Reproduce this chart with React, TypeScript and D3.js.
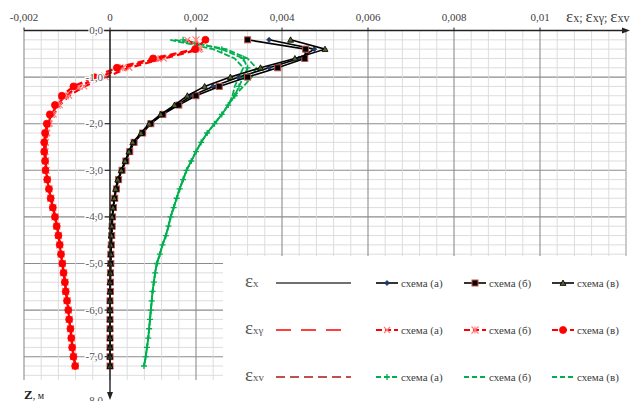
import React from 'react';
import * as d3 from 'd3';

const depths = [-0.2, -0.4, -0.6, -0.8, -1.0, -1.2, -1.4, -1.6, -1.8, -2.0, -2.2, -2.4, -2.6, -2.8, -3.0, -3.2, -3.4, -3.6, -3.8, -4.0, -4.2, -4.4, -4.6, -4.8, -5.0, -5.2, -5.4, -5.6, -5.8, -6.0, -6.2, -6.4, -6.6, -6.8, -7.0, -7.2];

const exA = [0.0037, 0.00475, 0.0044, 0.0037, 0.0030, 0.0024, 0.0019, 0.00155, 0.0012, 0.00093, 0.00074, 0.00055, 0.00045, 0.00036, 0.00027, 0.00019, 0.00014, 0.0001, 0.00008, 0.00006, 0.00005, 0.00004, 0.00003, 0.00002, 0.00001, 0.00001, 0.00001, 0, 0, 0, 0, 0, 0, 0, 0, 0];
const exB = [0.0032, 0.00455, 0.00453, 0.0039, 0.0032, 0.00254, 0.0020, 0.0016, 0.00123, 0.00095, 0.00076, 0.00056, 0.00046, 0.00037, 0.00028, 0.0002, 0.00015, 0.00011, 0.00008, 0.00006, 0.00005, 0.00004, 0.00003, 0.00002, 0.00002, 0.00001, 0.00001, 0.00001, 0, 0, 0, 0, 0, 0, 0, 0];
const exC = [0.0042, 0.0050, 0.0043, 0.0035, 0.0028, 0.0022, 0.0018, 0.0015, 0.00118, 0.00091, 0.00072, 0.00053, 0.00044, 0.00035, 0.00026, 0.00018, 0.00013, 0.0001, 0.00007, 0.00005, 0.00004, 0.00003, 0.00002, 0.00002, 0.00001, 0.00001, 0, 0, 0, 0, 0, 0, 0, 0, 0, 0];

const exgA = [0.0018, 0.0021, 0.00125, 0.00045, -0.0001, -0.0006, -0.00095, -0.00117, -0.00131, -0.0014, -0.00146, -0.00149, -0.0015, -0.00149, -0.00148, -0.00145, -0.00141, -0.00137, -0.00132, -0.00127, -0.00123, -0.00119, -0.00116, -0.00113, -0.0011, -0.00107, -0.00104, -0.00102, -0.00099, -0.00096, -0.00094, -0.00091, -0.00089, -0.00087, -0.00084, -0.0008];
const exgB = [0.0020, 0.00205, 0.00112, 0.0003, -0.00025, -0.00072, -0.00104, -0.00123, -0.00136, -0.00144, -0.00149, -0.00151, -0.00152, -0.0015, -0.00149, -0.00146, -0.00142, -0.00138, -0.00133, -0.00128, -0.00124, -0.0012, -0.00117, -0.00114, -0.00111, -0.00108, -0.00105, -0.00103, -0.001, -0.00097, -0.00095, -0.00092, -0.0009, -0.00088, -0.00085, -0.00081];
const exgC = [0.00222, 0.00198, 0.0010, 0.00016, -0.00038, -0.00085, -0.00112, -0.00128, -0.0014, -0.00147, -0.00151, -0.00153, -0.00153, -0.00151, -0.0015, -0.00146, -0.00142, -0.00138, -0.00133, -0.00128, -0.00124, -0.0012, -0.00117, -0.00114, -0.00111, -0.00108, -0.00105, -0.00103, -0.001, -0.00097, -0.00095, -0.00092, -0.0009, -0.00088, -0.00085, -0.00081];

const exvA = [0.0017, 0.0026, 0.0031, 0.0032, 0.0031, 0.0030, 0.0029, 0.00275, 0.0026, 0.00243, 0.00226, 0.00212, 0.002, 0.00189, 0.00178, 0.0017, 0.00162, 0.00155, 0.00148, 0.00141, 0.00136, 0.0013, 0.00122, 0.00116, 0.00109, 0.00105, 0.00102, 0.00099, 0.00097, 0.00095, 0.00093, 0.00091, 0.00089, 0.00086, 0.00083, 0.00079];
const exvB = [0.0014, 0.0024, 0.0029, 0.0031, 0.0030, 0.0029, 0.00285, 0.00275, 0.0026, 0.00243, 0.00226, 0.00212, 0.002, 0.00189, 0.00178, 0.0017, 0.00162, 0.00155, 0.00148, 0.00141, 0.00136, 0.0013, 0.00122, 0.00116, 0.00109, 0.00105, 0.00102, 0.00099, 0.00097, 0.00095, 0.00093, 0.00091, 0.00089, 0.00086, 0.00083, 0.00079];
const exvC = [0.0015, 0.0027, 0.0032, 0.0034, 0.0033, 0.0031, 0.0029, 0.00275, 0.0026, 0.00243, 0.00226, 0.00212, 0.002, 0.00189, 0.00178, 0.0017, 0.00162, 0.00155, 0.00148, 0.00141, 0.00136, 0.0013, 0.00122, 0.00116, 0.00109, 0.00105, 0.00102, 0.00099, 0.00097, 0.00095, 0.00093, 0.00091, 0.00089, 0.00086, 0.00083, 0.00079];

const xTickValues = [-0.002, 0, 0.002, 0.004, 0.006, 0.008, 0.01];
const xTickLabels = ['-0,002', '0', '0,002', '0,004', '0,006', '0,008', '0,01'];
const yTickValues = [0, -1, -2, -3, -4, -5, -6, -7, -8];
const yTickLabels = ['0,0', '-1,0', '-2,0', '-3,0', '-4,0', '-5,0', '-6,0', '-7,0', '-8,0'];
const schemeLabels = ['схема (а)', 'схема (б)', 'схема (в)'];

const FONT = "'Liberation Serif', 'Times New Roman', 'DejaVu Serif', serif";

type Marker = 'diamond' | 'square' | 'triangle' | 'circle' | 'x' | 'star' | 'plus' | 'none';
interface Series { values: number[]; stroke: string; width: number; dash?: string; legendDash?: string; marker: Marker; mFill: string; mStroke: string; mSize: number; }

const series: Series[] = [
  { values: exvB, stroke: '#00b050', width: 1.8, dash: '6,2', legendDash: '5,3', marker: 'none', mFill: 'none', mStroke: '#00b050', mSize: 0 },
  { values: exvC, stroke: '#00b050', width: 1.8, dash: '6,2', legendDash: '5,3', marker: 'none', mFill: 'none', mStroke: '#00b050', mSize: 0 },
  { values: exvA, stroke: '#00b050', width: 1.8, dash: '6,2', legendDash: '5,3', marker: 'plus', mFill: 'none', mStroke: '#00b050', mSize: 6 },
  { values: exgA, stroke: '#ff0000', width: 2.2, dash: '7,4', legendDash: '6,3', marker: 'x', mFill: 'none', mStroke: '#ff8080', mSize: 6 },
  { values: exgB, stroke: '#ff0000', width: 2.2, dash: '7,4', legendDash: '6,3', marker: 'star', mFill: 'none', mStroke: '#ff8080', mSize: 7 },
  { values: exgC, stroke: '#ff0000', width: 2.2, dash: '7,4', legendDash: '6,3', marker: 'circle', mFill: '#ff0000', mStroke: '#ff0000', mSize: 7 },
  { values: exA, stroke: '#000000', width: 1.6, marker: 'diamond', mFill: '#1f3864', mStroke: '#1f3864', mSize: 5 },
  { values: exB, stroke: '#000000', width: 1.6, marker: 'square', mFill: '#000000', mStroke: '#c0504d', mSize: 6 },
  { values: exC, stroke: '#000000', width: 1.6, marker: 'triangle', mFill: '#4f6228', mStroke: '#000000', mSize: 6 },
];

function markerEl(m: Marker, cx: number, cy: number, s: number, fill: string, stroke: string, key: string | number) {
  const h = s / 2;
  switch (m) {
    case 'diamond':
      return <path key={key} d={`M${cx},${cy - h}L${cx + h},${cy}L${cx},${cy + h}L${cx - h},${cy}Z`} fill={fill} stroke={stroke} strokeWidth={0.8} />;
    case 'square':
      return <rect key={key} x={cx - h} y={cy - h} width={s} height={s} fill={fill} stroke={stroke} strokeWidth={1} />;
    case 'triangle':
      return <path key={key} d={`M${cx},${cy - h}L${cx + h},${cy + h * 0.8}L${cx - h},${cy + h * 0.8}Z`} fill={fill} stroke={stroke} strokeWidth={0.8} />;
    case 'circle':
      return <circle key={key} cx={cx} cy={cy} r={h} fill={fill} stroke={stroke} strokeWidth={0.8} />;
    case 'x':
      return <path key={key} d={`M${cx - h},${cy - h}L${cx + h},${cy + h}M${cx - h},${cy + h}L${cx + h},${cy - h}`} stroke={stroke} strokeWidth={1.2} fill="none" />;
    case 'star':
      return <path key={key} d={`M${cx - h},${cy - h}L${cx + h},${cy + h}M${cx - h},${cy + h}L${cx + h},${cy - h}M${cx},${cy - h}L${cx},${cy + h}`} stroke={stroke} strokeWidth={1.2} fill="none" />;
    case 'plus':
      return <path key={key} d={`M${cx - h},${cy}L${cx + h},${cy}M${cx},${cy - h}L${cx},${cy + h}`} stroke={stroke} strokeWidth={1.3} fill="none" />;
    default:
      return null;
  }
}

export default function App() {
  const W = 635, H = 401;
  const x = d3.scaleLinear().domain([-0.002, 0.012]).range([24, 626]);
  const y = d3.scaleLinear().domain([0, -8]).range([30.5, 403.3]);
  const gridBottom = y(-7.5);

  const vGrid = d3.range(0, 36).map(i => -0.002 + i * 0.0004);
  const hGrid = d3.range(0, 38).map(i => -i * 0.2);

  const line = d3.line<[number, number]>().x(d => x(d[0])).y(d => y(d[1]));

  const legendRows = [283, 330, 377];
  const legendCols = [376, 464, 552];
  const legendGroups = [[6, 7, 8], [3, 4, 5], [2, 0, 1]];

  return (
    <svg width={W} height={H} style={{ position: 'absolute', left: 0, top: 0, background: '#fff', fontFamily: FONT }}>
      <rect x={0} y={0} width={W} height={H} fill="#fff" />
      {/* grid */}
      {hGrid.map((z, i) => {
        const major = i % 5 === 0;
        return <line key={'h' + i} x1={24} x2={626} y1={y(z)} y2={y(z)} stroke={major ? '#8c8c8c' : '#d9d9d9'} strokeWidth={major ? 1.1 : 0.9} />;
      })}
      {vGrid.map((v, i) => {
        const major = i % 5 === 0;
        return <line key={'v' + i} x1={x(v)} x2={x(v)} y1={y(0)} y2={gridBottom} stroke={major ? '#8c8c8c' : '#d9d9d9'} strokeWidth={major ? 1.1 : 0.9} />;
      })}
      <line x1={x(0.012)} x2={x(0.012)} y1={y(0)} y2={gridBottom} stroke="#d9d9d9" strokeWidth={0.9} />

      {/* axes */}
      <line x1={24} x2={624} y1={y(0)} y2={y(0)} stroke="#222" strokeWidth={1.4} />
      <path d={`M630,${y(0)}L622,${y(0) - 3}L622,${y(0) + 3}Z`} fill="#222" />
      {xTickValues.map((v, i) => (
        <line key={'xt' + i} x1={x(v)} x2={x(v)} y1={y(0) - 3} y2={y(0)} stroke="#222" strokeWidth={1} />
      ))}
      {xTickValues.map((v, i) => (
        <text key={'xl' + i} x={x(v)} y={21} fontSize={11} textAnchor="middle" fill="#404040" style={{ fontFamily: FONT }}>{xTickLabels[i]}</text>
      ))}

      {/* series */}
      {series.map((s, si) => {
        const pts: [number, number][] = s.values.map((v, i) => [v, depths[i]]);
        return (
          <g key={'s' + si}>
            <path d={line(pts) || ''} fill="none" stroke={s.stroke} strokeWidth={s.width} strokeDasharray={s.dash} />
            {s.marker !== 'none' && pts.map((p, i) => markerEl(s.marker, x(p[0]), y(p[1]), s.mSize, s.mFill, s.mStroke, i))}
          </g>
        );
      })}

      {/* vertical axis */}
      <line x1={x(0)} x2={x(0)} y1={y(0)} y2={394} stroke="#222" strokeWidth={1.4} />
      <path d={`M${x(0)},400L${x(0) - 3},392L${x(0) + 3},392Z`} fill="#222" />
      {yTickValues.map((v, i) => (
        <g key={'yt' + i}>
          <line x1={x(0) - 5} x2={x(0)} y1={y(v)} y2={y(v)} stroke="#222" strokeWidth={1} />
          <text x={103} y={Math.min(y(v) + 3.5, 404)} fontSize={11} textAnchor="end" fill="#50505a" stroke="#fff" strokeWidth={2.5} paintOrder="stroke" style={{ fontFamily: FONT }}>{yTickLabels[i]}</text>
        </g>
      ))}

      {/* axis titles */}
      <text x={566} y={22} fill="#404040" style={{ fontFamily: FONT }}>
        <tspan fontSize={17}>ε</tspan><tspan fontSize={12}>x; </tspan>
        <tspan fontSize={17}>ε</tspan><tspan fontSize={12}>xγ; </tspan>
        <tspan fontSize={17}>ε</tspan><tspan fontSize={12}>xv</tspan>
      </text>
      <rect x={18} y={382} width={36} height={19} fill="#fff" />
      <text x={24} y={399} fill="#222" style={{ fontFamily: FONT }}><tspan fontSize={13} fontWeight="bold">Z</tspan><tspan fontSize={10}>, м</tspan></text>

      {/* legend */}
      <rect x={223} y={256} width={412} height={139} fill="#fff" />
      <text x={245} y={legendRows[0] + 4} fill="#595959" style={{ fontFamily: FONT }}><tspan fontSize={19}>ε</tspan><tspan fontSize={11}>x</tspan></text>
      <text x={245} y={legendRows[1] + 4} fill="#595959" style={{ fontFamily: FONT }}><tspan fontSize={19}>ε</tspan><tspan fontSize={11}>xγ</tspan></text>
      <text x={245} y={legendRows[2] + 4} fill="#595959" style={{ fontFamily: FONT }}><tspan fontSize={19}>ε</tspan><tspan fontSize={11}>xv</tspan></text>
      <line x1={276} x2={351} y1={legendRows[0]} y2={legendRows[0]} stroke="#404040" strokeWidth={1.6} />
      <line x1={276} x2={351} y1={legendRows[1]} y2={legendRows[1]} stroke="#ff0000" strokeWidth={1.6} strokeDasharray="15,10" />
      <line x1={276} x2={351} y1={legendRows[2]} y2={legendRows[2]} stroke="#c0504d" strokeWidth={2} strokeDasharray="9,5" />
      {legendGroups.map((grp, ri) => grp.map((si, ci) => {
        const s = series[si];
        const lx = legendCols[ci];
        const ly = legendRows[ri];
        return (
          <g key={'lg' + ri + '-' + ci}>
            <line x1={lx} x2={lx + 22} y1={ly} y2={ly} stroke={s.stroke} strokeWidth={s.width} strokeDasharray={s.legendDash} />
            {markerEl(s.marker, lx + 11, ly, s.mSize, s.mFill, s.mStroke, 'm')}
            <text x={lx + 25} y={ly + 3.5} fontSize={11} fill="#404040" style={{ fontFamily: FONT }}>{schemeLabels[ci]}</text>
          </g>
        );
      }))}
    </svg>
  );
}
